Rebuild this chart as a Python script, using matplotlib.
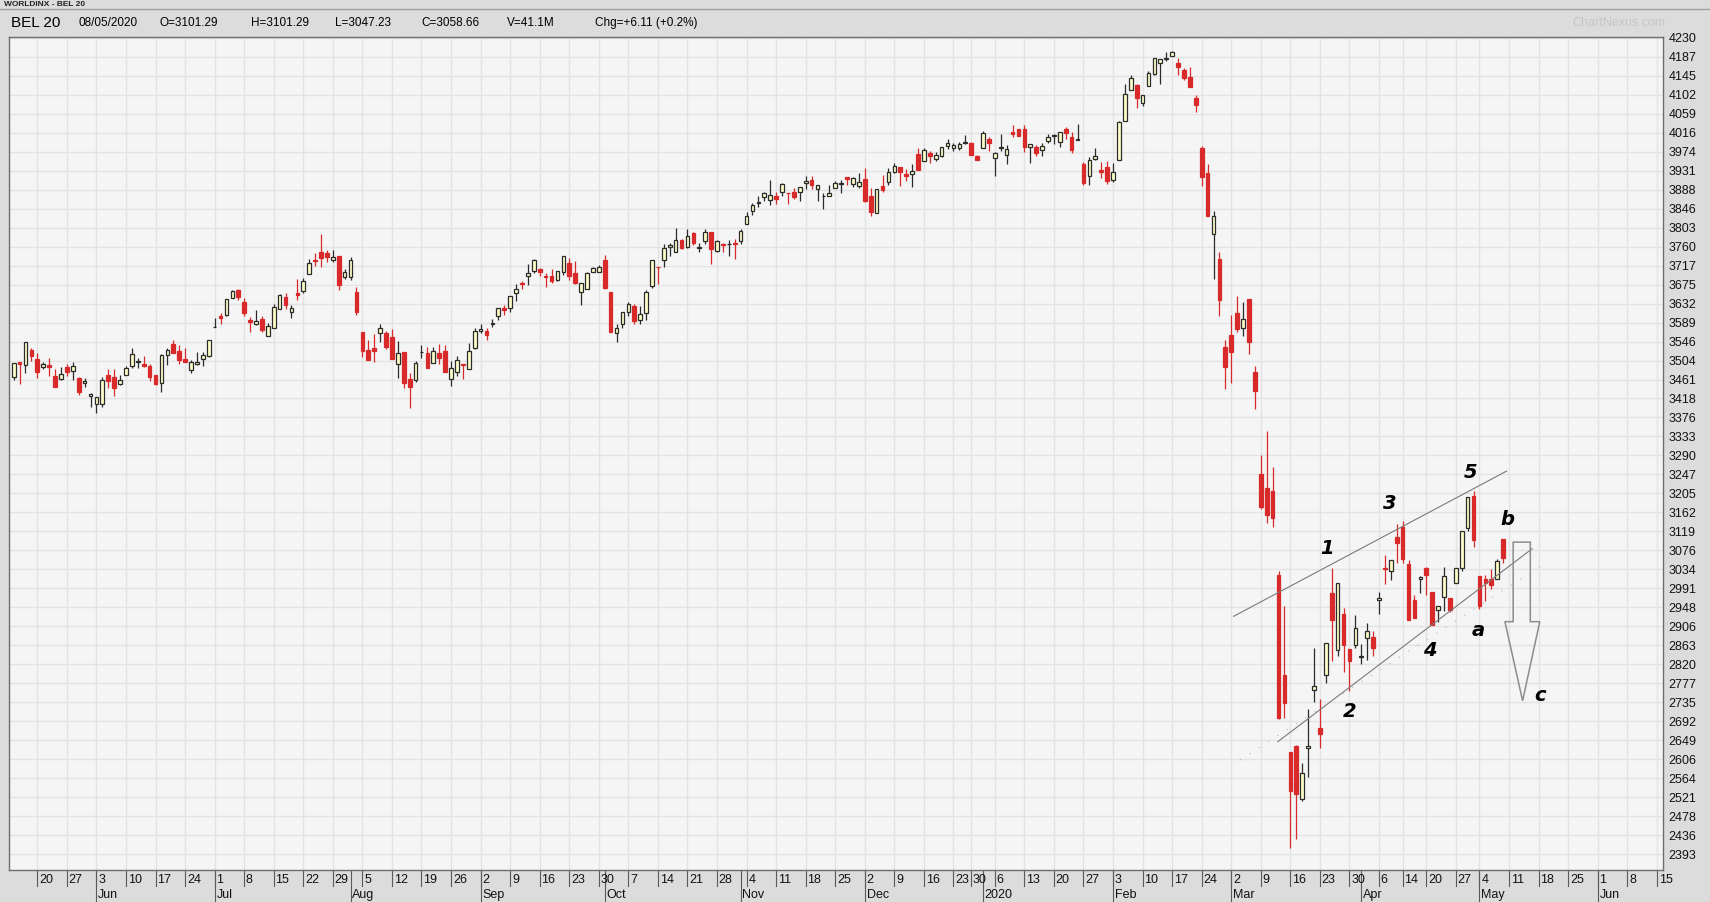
import numpy as np
import pandas as pd
import matplotlib
matplotlib.use('Agg')
import matplotlib.pyplot as plt
from matplotlib.patches import Polygon

# BEL 20 daily bars, 14 May 2019 .. 8 May 2020
opens = [
    3466, 3500, 3493, 3527, 3507, 3489, 3493, 3470, 3463, 3490,
    3481, 3465, 3453, 3424, 3406, 3406, 3471, 3466, 3451, 3471,
    3491, 3500, 3496, 3491, 3471, 3453, 3516, 3541, 3525, 3507,
    3482, 3496, 3507, 3514, 3579, 3604, 3606, 3644, 3662, 3635,
    3595, 3586, 3597, 3559, 3577, 3619, 3646, 3613, 3655, 3661,
    3699, 3730, 3747, 3745, 3730, 3738, 3691, 3691, 3659, 3569,
    3527, 3533, 3566, 3565, 3556, 3495, 3522, 3463, 3461, 3522,
    3520, 3499, 3520, 3526, 3463, 3479, 3497, 3485, 3533, 3571,
    3571, 3585, 3605, 3621, 3623, 3655, 3679, 3695, 3706, 3709,
    3693, 3695, 3686, 3702, 3723, 3700, 3657, 3664, 3704, 3704,
    3730, 3659, 3565, 3587, 3612, 3626, 3594, 3610, 3671, 3715,
    3731, 3760, 3747, 3774, 3760, 3790, 3758, 3772, 3792, 3751,
    3767, 3765, 3769, 3772, 3812, 3841, 3859, 3871, 3864, 3873,
    3882, 3881, 3882, 3884, 3904, 3909, 3889, 3873, 3873, 3891,
    3902, 3916, 3902, 3896, 3912, 3874, 3835, 3896, 3905, 3928,
    3939, 3923, 3923, 3968, 3952, 3970, 3957, 3964, 3986, 3982,
    3982, 3993, 3993, 3964, 3982, 4002, 3959, 3982, 3966, 4018,
    4024, 4024, 3984, 3984, 3977, 3997, 4009, 3995, 4024, 4006,
    4000, 3946, 3919, 3957, 3932, 3939, 3910, 3955, 4042, 4112,
    4123, 4083, 4121, 4148, 4173, 4183, 4189, 4173, 4157, 4141,
    4094, 3982, 3926, 3788, 3732, 3534, 3561, 3611, 3577, 3642,
    3478, 3249, 3217, 3210, 3020, 2795, 2622, 2636, 2516, 2632,
    2762, 2677, 2795, 2980, 2852, 2933, 2854, 2863, 2836, 2879,
    2881, 2964, 3036, 3029, 3106, 3130, 3045, 2964, 3013, 3036,
    2982, 2942, 2971, 2969, 3004, 3036, 3126, 3198, 3018, 3011,
    3013, 3011, 3101.29,
]
highs = [
    3498, 3500, 3545, 3532, 3520, 3500, 3509, 3485, 3489, 3496,
    3501, 3467, 3464, 3430, 3421, 3466, 3485, 3485, 3472, 3491,
    3532, 3509, 3514, 3496, 3471, 3518, 3532, 3550, 3539, 3532,
    3505, 3523, 3523, 3550, 3599, 3610, 3642, 3662, 3664, 3644,
    3601, 3617, 3604, 3588, 3631, 3653, 3655, 3628, 3687, 3689,
    3732, 3745, 3788, 3752, 3752, 3738, 3709, 3736, 3669, 3569,
    3549, 3563, 3586, 3571, 3574, 3547, 3522, 3475, 3503, 3538,
    3534, 3534, 3541, 3538, 3502, 3514, 3497, 3543, 3578, 3587,
    3576, 3598, 3621, 3628, 3650, 3677, 3682, 3722, 3733, 3713,
    3700, 3709, 3706, 3740, 3734, 3727, 3679, 3704, 3715, 3718,
    3741, 3659, 3587, 3612, 3635, 3630, 3626, 3662, 3729, 3715,
    3765, 3769, 3801, 3778, 3799, 3794, 3769, 3799, 3792, 3774,
    3769, 3776, 3778, 3799, 3839, 3859, 3875, 3882, 3909, 3884,
    3904, 3881, 3893, 3895, 3920, 3920, 3898, 3880, 3898, 3907,
    3911, 3916, 3916, 3926, 3937, 3892, 3890, 3921, 3937, 3948,
    3939, 3934, 3946, 3982, 3982, 3975, 3973, 3984, 4002, 3993,
    3995, 4011, 3995, 3966, 4020, 4006, 3973, 4013, 3988, 4033,
    4024, 4033, 3991, 3988, 3993, 4013, 4013, 4018, 4029, 4018,
    4036, 3950, 3961, 3982, 3950, 3952, 3948, 4042, 4126, 4146,
    4126, 4101, 4155, 4184, 4182, 4198, 4201, 4184, 4162, 4164,
    4101, 3986, 3946, 3840, 3748, 3550, 3606, 3649, 3635, 3642,
    3492, 3291, 3346, 3264, 3030, 2952, 2622, 2638, 2597, 2719,
    2856, 2741, 2867, 3037, 3004, 2946, 2854, 2930, 2865, 2912,
    2894, 2982, 3067, 3054, 3135, 3142, 3054, 2977, 3018, 3038,
    2982, 2951, 3038, 2969, 3036, 3121, 3196, 3209, 3018, 3022,
    3034, 3058, 3101.29,
]
lows = [
    3459, 3452, 3475, 3502, 3464, 3484, 3470, 3445, 3459, 3470,
    3459, 3427, 3445, 3400, 3385, 3399, 3442, 3425, 3448, 3471,
    3488, 3488, 3489, 3457, 3448, 3434, 3493, 3520, 3497, 3500,
    3475, 3494, 3491, 3512, 3579, 3586, 3604, 3644, 3639, 3604,
    3568, 3583, 3568, 3559, 3577, 3619, 3619, 3599, 3640, 3656,
    3699, 3717, 3715, 3726, 3726, 3663, 3688, 3686, 3607, 3512,
    3505, 3501, 3546, 3530, 3508, 3465, 3443, 3398, 3456, 3510,
    3487, 3499, 3496, 3478, 3447, 3469, 3463, 3485, 3529, 3566,
    3550, 3580, 3594, 3607, 3612, 3637, 3664, 3673, 3700, 3693,
    3670, 3679, 3682, 3697, 3684, 3675, 3628, 3664, 3702, 3704,
    3664, 3567, 3545, 3578, 3603, 3585, 3585, 3596, 3666, 3677,
    3715, 3738, 3747, 3754, 3756, 3763, 3747, 3767, 3722, 3747,
    3747, 3740, 3733, 3767, 3812, 3832, 3850, 3862, 3853, 3855,
    3873, 3855, 3868, 3862, 3889, 3889, 3862, 3844, 3873, 3891,
    3880, 3898, 3895, 3891, 3860, 3828, 3835, 3884, 3899, 3926,
    3896, 3908, 3894, 3932, 3952, 3948, 3952, 3961, 3979, 3975,
    3977, 3991, 3966, 3955, 3982, 3975, 3919, 3975, 3946, 4006,
    4009, 3973, 3948, 3964, 3964, 3993, 3991, 3984, 4002, 3970,
    4000, 3899, 3899, 3955, 3914, 3901, 3905, 3955, 4042, 4112,
    4072, 4076, 4121, 4146, 4126, 4178, 4189, 4146, 4135, 4119,
    4063, 3896, 3829, 3687, 3604, 3440, 3453, 3568, 3559, 3519,
    3395, 3170, 3138, 3129, 2698, 2700, 2406, 2427, 2512, 2566,
    2735, 2631, 2779, 2827, 2838, 2802, 2759, 2856, 2820, 2829,
    2838, 2933, 3000, 3009, 3049, 3049, 2919, 2924, 2980, 2977,
    2908, 2915, 2939, 2937, 3002, 3031, 3119, 3083, 2944, 2962,
    2989, 3011, 3047.23,
]
closes = [
    3498, 3496, 3545, 3514, 3478, 3496, 3490, 3445, 3474, 3477,
    3491, 3434, 3457, 3428, 3421, 3460, 3457, 3442, 3460, 3487,
    3518, 3502, 3491, 3466, 3452, 3516, 3527, 3520, 3506, 3500,
    3500, 3500, 3516, 3550, 3580, 3599, 3642, 3660, 3646, 3610,
    3590, 3592, 3572, 3581, 3624, 3651, 3628, 3622, 3652, 3682,
    3724, 3727, 3735, 3737, 3736, 3674, 3702, 3731, 3613, 3526,
    3505, 3526, 3576, 3535, 3508, 3520, 3454, 3445, 3499, 3524,
    3487, 3526, 3510, 3478, 3488, 3504, 3493, 3526, 3571, 3574,
    3562, 3589, 3621, 3618, 3648, 3664, 3677, 3700, 3731, 3702,
    3691, 3682, 3706, 3740, 3695, 3679, 3679, 3700, 3713, 3715,
    3668, 3567, 3576, 3612, 3630, 3593, 3608, 3659, 3729, 3714,
    3758, 3763, 3776, 3758, 3785, 3769, 3760, 3792, 3754, 3772,
    3764, 3767, 3765, 3796, 3830, 3853, 3861, 3880, 3877, 3868,
    3900, 3880, 3871, 3895, 3907, 3898, 3898, 3875, 3880, 3904,
    3904, 3913, 3915, 3905, 3862, 3839, 3890, 3887, 3928, 3941,
    3928, 3920, 3930, 3932, 3977, 3964, 3966, 3984, 3993, 3988,
    3991, 3995, 3966, 3955, 4015, 3993, 3970, 3984, 3979, 4013,
    4009, 3984, 3991, 3970, 3986, 4006, 4011, 4018, 4015, 3977,
    4002, 3903, 3955, 3964, 3928, 3908, 3928, 4040, 4103, 4139,
    4094, 4101, 4150, 4184, 4182, 4185, 4198, 4164, 4139, 4119,
    4078, 3917, 3829, 3829, 3640, 3489, 3523, 3575, 3597, 3546,
    3435, 3174, 3156, 3149, 2700, 2732, 2534, 2528, 2575, 2636,
    2771, 2663, 2867, 2919, 3004, 2863, 2827, 2901, 2838, 2894,
    2856, 2969, 3034, 3054, 3092, 3056, 2919, 2924, 3016, 3020,
    2908, 2951, 3018, 2942, 3036, 3121, 3196, 3099, 2951, 3004,
    2998, 3052, 3058.66,
]

first_day = '2019-05-14'
holidays = ['2019-12-25', '2019-12-26', '2020-01-01', '2020-04-10', '2020-04-13', '2020-05-01']

price_labels = ['4230', '4187', '4145', '4102', '4059', '4016', '3974', '3931', '3888', '3846',
                '3803', '3760', '3717', '3675', '3632', '3589', '3546', '3504', '3461', '3418',
                '3376', '3333', '3290', '3247', '3205', '3162', '3119', '3076', '3034', '2991',
                '2948', '2906', '2863', '2820', '2777', '2735', '2692', '2649', '2606', '2564',
                '2521', '2478', '2436', '2393']

# hand drawn Elliott-wave markup (bar index, price)
wave_labels = ['1', '2', '3', '4', '5', 'a', 'b', 'c']
wave_x = [222.2, 226.1, 232.8, 239.6, 246.5, 247.8, 252.7, 258.2]
wave_y = [3080, 2713, 3182, 2852, 3252, 2896, 3145, 2749]
upper_line = ([206.4, 252.6], [2928, 3255])
lower_line = ([213.9, 256.9], [2646, 3080])
faint_line = ([207.5, 259.1], [2605, 3047])
arrow_x = [253.7, 256.6, 256.6, 258.2, 255.3, 252.3, 253.7]
arrow_y = [3095, 3095, 2916, 2916, 2738, 2916, 2916]

months = {1: '2020', 2: 'Feb', 3: 'Mar', 4: 'Apr', 5: 'May', 6: 'Jun', 7: 'Jul',
          8: 'Aug', 9: 'Sep', 10: 'Oct', 11: 'Nov', 12: 'Dec'}

RED = '#d82a2a'
CREAM = '#ffffcc'
DARK = '#2b2b2b'
BG = '#dcdcdc'

W, H = 1710, 902
fig = plt.figure(figsize=(W / 100, H / 100), dpi=100, facecolor=BG)
ax = fig.add_axes([9 / W, 1 - 870 / H, (1663 - 9) / W, (870 - 37) / H])
ax.set_facecolor('#f5f5f5')

o = np.array(opens)
h = np.array(highs)
l = np.array(lows)
c = np.array(closes)
x = np.arange(len(o))
up = c >= o

ax.vlines(x[up], l[up], h[up], color=DARK, lw=0.9, zorder=2)
ax.vlines(x[~up], l[~up], h[~up], color=RED, lw=0.9, zorder=2)
ax.bar(x[up], (c - o)[up], bottom=o[up], width=0.62, color=CREAM,
       edgecolor=DARK, linewidth=0.9, zorder=3)
ax.bar(x[~up], (o - c)[~up], bottom=c[~up], width=0.62, color=RED,
       edgecolor=RED, linewidth=0.9, zorder=3)

# trading calendar, running on past the last bar
dates = pd.bdate_range(first_day, '2020-07-31')
dates = dates[~dates.isin(pd.to_datetime(holidays))]
x_right = 279.05
n_axis = int(x_right) + 1
dates = dates[:n_axis]

week_idx = [i for i in range(1, len(dates))
            if dates[i].isocalendar()[1] != dates[i - 1].isocalendar()[1]]
month_idx = [i for i in range(1, len(dates)) if dates[i].month != dates[i - 1].month]

ax.set_xlim(-0.79, x_right)
ax.set_ylim(2357, 4232)

ax.set_xticks(week_idx)
ax.set_xticklabels([])
ax.tick_params(axis='x', length=0)
ax.yaxis.tick_right()
ax.set_yticks(np.linspace(4230, 2393, len(price_labels)))
ax.set_yticklabels(price_labels, fontsize=9, family='Liberation Sans', color='#111111')
ax.tick_params(axis='y', length=0, pad=4)
ax.grid(True, color='#e3e3e3', lw=1.0, zorder=0)
ax.set_axisbelow(True)
for s in ax.spines.values():
    s.set_color('#6e6e6e')
    s.set_linewidth(1.0)

# date strip under the chart
trans = ax.get_xaxis_transform()
for i in week_idx:
    ax.plot([i, i], [0, -0.019], transform=trans, color='#5a5a5a', lw=0.8, clip_on=False)
    ax.text(i + 0.3, -0.0115, str(dates[i].day), transform=trans, ha='left', va='center',
            fontsize=9, family='Liberation Sans', color='#111111', clip_on=False)
for i in month_idx:
    ax.plot([i, i], [0, -0.04], transform=trans, color='#5a5a5a', lw=0.8, clip_on=False)
    ax.text(i + 0.3, -0.0295, months[dates[i].month], transform=trans, ha='left', va='center',
            fontsize=9, family='Liberation Sans', color='#111111', clip_on=False)

# wave count markup
ax.plot(*upper_line, color='#7a7a7a', lw=0.8, zorder=4)
ax.plot(*lower_line, color='#7a7a7a', lw=0.8, zorder=4)
ax.plot(*faint_line, color='#b4b4b4', lw=0.8, ls=(0, (1, 9)), zorder=4)
ax.add_patch(Polygon(np.column_stack([arrow_x, arrow_y]), closed=True, fill=False,
                     edgecolor='#8c8c8c', lw=1.1, zorder=4))
for t, xx, yy in zip(wave_labels, wave_x, wave_y):
    ax.text(xx, yy, t, fontsize=14, fontweight='bold', fontstyle='italic',
            ha='center', va='center', color='black', zorder=5)

# window title strip and header line
fig.text(4 / W, 1 - 0.5 / H, 'WORLDINX - BEL 20', fontsize=6, fontweight='bold',
         family='Liberation Sans', va='top', color='#222222')
fig.add_artist(plt.Line2D([0, 1], [1 - 8.5 / H, 1 - 8.5 / H], color='#a0a0a0', lw=1))
fig.text(11 / W, 1 - 23 / H, 'BEL 20', fontsize=11, family='Liberation Sans', va='center')
header = [(78, '08/05/2020'), (160, 'O=3101.29'), (251, 'H=3101.29'), (335, 'L=3047.23'),
          (421, 'C=3058.66'), (507, 'V=41.1M'), (595, 'Chg=+6.11 (+0.2%)')]
for px, txt in header:
    fig.text(px / W, 1 - 23 / H, txt, fontsize=8.5, family='Liberation Sans', va='center')
fig.text(1572 / W, 1 - 23 / H, 'ChartNexus.com', fontsize=9, family='Liberation Sans',
         va='center', color='#c6c6c6')

fig.savefig('out.png', dpi=100, facecolor=BG)
